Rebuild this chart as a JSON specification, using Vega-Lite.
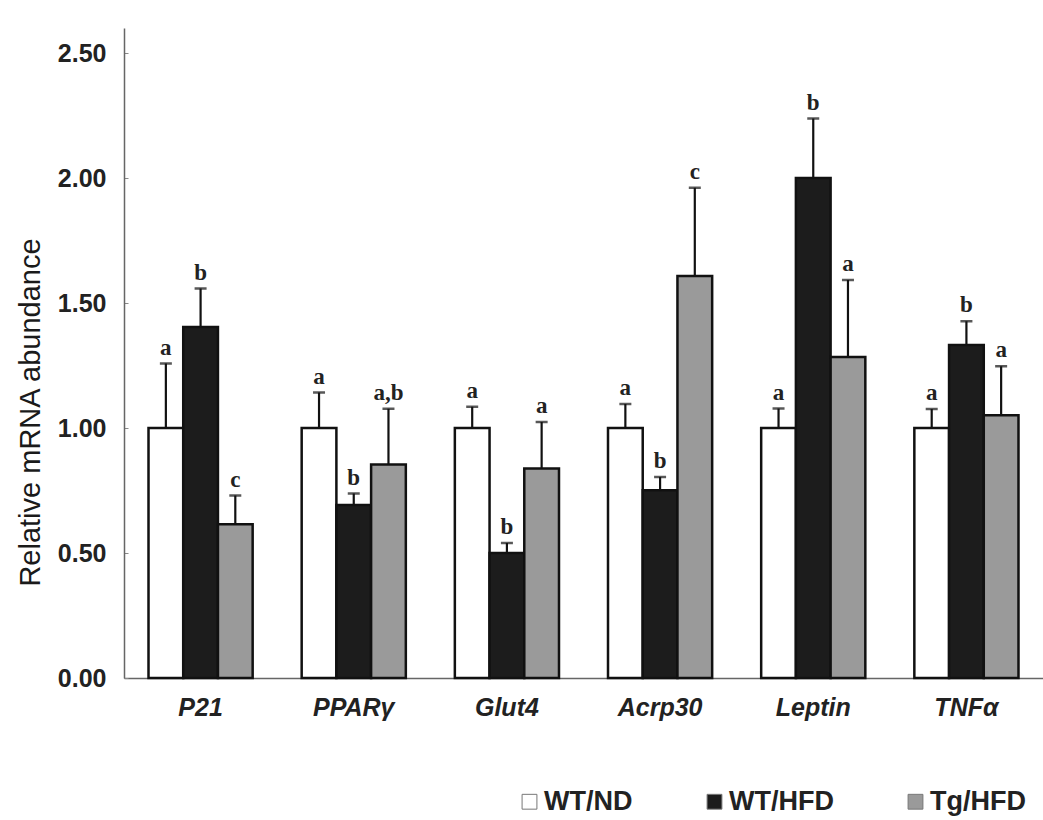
{
  "$schema": "https://vega.github.io/schema/vega-lite/v6.json",
  "width": 919,
  "height": 650,
  "autosize": {"type": "none"},
  "padding": {"left": 124, "top": 28, "right": 0, "bottom": 142},
  "background": "white",
  "config": {
    "view": {"stroke": null},
    "font": "Liberation Sans"
  },
  "data": {
    "values": [
      {"gene": "P21", "group": "WT/ND", "mean": 1.0, "upper": 1.258, "sig": "a"},
      {"gene": "P21", "group": "WT/HFD", "mean": 1.404, "upper": 1.558, "sig": "b"},
      {"gene": "P21", "group": "Tg/HFD", "mean": 0.615, "upper": 0.73, "sig": "c"},
      {"gene": "PPARγ", "group": "WT/ND", "mean": 1.0, "upper": 1.142, "sig": "a"},
      {"gene": "PPARγ", "group": "WT/HFD", "mean": 0.692, "upper": 0.738, "sig": "b"},
      {"gene": "PPARγ", "group": "Tg/HFD", "mean": 0.854, "upper": 1.077, "sig": "a,b"},
      {"gene": "Glut4", "group": "WT/ND", "mean": 1.0, "upper": 1.085, "sig": "a"},
      {"gene": "Glut4", "group": "WT/HFD", "mean": 0.5, "upper": 0.54, "sig": "b"},
      {"gene": "Glut4", "group": "Tg/HFD", "mean": 0.838, "upper": 1.024, "sig": "a"},
      {"gene": "Acrp30", "group": "WT/ND", "mean": 1.0, "upper": 1.096, "sig": "a"},
      {"gene": "Acrp30", "group": "WT/HFD", "mean": 0.751, "upper": 0.804, "sig": "b"},
      {"gene": "Acrp30", "group": "Tg/HFD", "mean": 1.608, "upper": 1.961, "sig": "c"},
      {"gene": "Leptin", "group": "WT/ND", "mean": 1.0, "upper": 1.078, "sig": "a"},
      {"gene": "Leptin", "group": "WT/HFD", "mean": 2.0, "upper": 2.238, "sig": "b"},
      {"gene": "Leptin", "group": "Tg/HFD", "mean": 1.284, "upper": 1.592, "sig": "a"},
      {"gene": "TNFα", "group": "WT/ND", "mean": 1.0, "upper": 1.076, "sig": "a"},
      {"gene": "TNFα", "group": "WT/HFD", "mean": 1.332, "upper": 1.427, "sig": "b"},
      {"gene": "TNFα", "group": "Tg/HFD", "mean": 1.051, "upper": 1.247, "sig": "a"}
    ]
  },
  "encoding": {
    "x": {
      "field": "gene",
      "type": "nominal",
      "sort": ["P21", "PPARγ", "Glut4", "Acrp30", "Leptin", "TNFα"],
      "scale": {"paddingInner": 0.32, "paddingOuter": 0.16},
      "axis": {
        "title": null,
        "labelAngle": 0,
        "labelFont": "Liberation Sans",
        "labelFontSize": 25,
        "labelFontWeight": "bold",
        "labelFontStyle": "italic",
        "labelColor": "#222",
        "labelPadding": 17,
        "ticks": false,
        "domainColor": "#666",
        "domainWidth": 1.5
      }
    },
    "xOffset": {
      "field": "group",
      "type": "nominal",
      "sort": ["WT/ND", "WT/HFD", "Tg/HFD"],
      "scale": {"paddingInner": 0, "paddingOuter": 0}
    }
  },
  "layer": [
    {
      "mark": {"type": "bar", "stroke": "#111", "strokeWidth": 2.5},
      "encoding": {
        "y": {
          "field": "mean",
          "type": "quantitative",
          "scale": {"domain": [0, 2.5]},
          "axis": {
            "title": "Relative mRNA abundance",
            "values": [0, 0.5, 1, 1.5, 2, 2.5],
            "format": ".2f",
            "grid": false,
            "labelFont": "Liberation Sans",
            "labelFontSize": 25,
            "labelFontWeight": "bold",
            "labelColor": "#222",
            "labelPadding": 22,
            "tickSize": -4,
            "tickColor": "#888",
            "domainColor": "#666",
            "domainWidth": 1.5,
            "titleFont": "Liberation Sans",
            "titleFontSize": 29,
            "titleFontWeight": "normal",
            "titleColor": "#1a1a1a",
            "titleX": -94,
            "titleY": 384,
            "titleBaseline": "middle"
          }
        },
        "fill": {
          "field": "group",
          "type": "nominal",
          "sort": ["WT/ND", "WT/HFD", "Tg/HFD"],
          "scale": {"domain": ["WT/ND", "WT/HFD", "Tg/HFD"], "range": ["#ffffff", "#1c1c1c", "#9a9a9a"]},
          "legend": {
            "title": null,
            "orient": "none",
            "direction": "horizontal",
            "legendX": 392,
            "legendY": 760,
            "symbolType": "square",
            "symbolSize": 220,
            "symbolStrokeColor": "#777",
            "symbolStrokeWidth": 1,
            "labelFont": "Liberation Sans",
            "labelFontSize": 27,
            "labelFontWeight": "bold",
            "labelColor": "#222",
            "labelOffset": 1,
            "columnPadding": 68
          }
        }
      }
    },
    {
      "mark": {"type": "rule", "color": "#111", "strokeWidth": 2.2},
      "encoding": {
        "y": {"field": "mean", "type": "quantitative"},
        "y2": {"field": "upper"}
      }
    },
    {
      "mark": {"type": "tick", "color": "#111", "thickness": 2.5, "size": 12},
      "encoding": {
        "y": {"field": "upper", "type": "quantitative"}
      }
    },
    {
      "mark": {"type": "text", "font": "Liberation Serif", "fontSize": 23, "fontWeight": "bold", "color": "#222", "dy": -16},
      "encoding": {
        "y": {"field": "upper", "type": "quantitative"},
        "text": {"field": "sig"}
      }
    }
  ]
}
